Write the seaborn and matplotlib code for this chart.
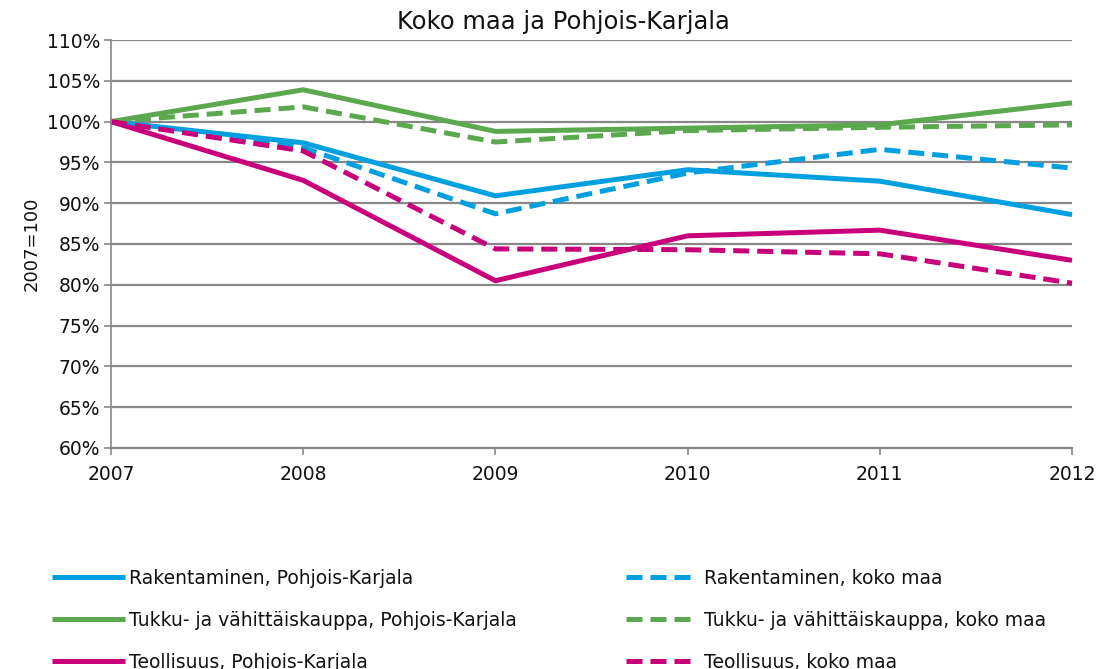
import matplotlib
matplotlib.use("Agg")
import matplotlib.pyplot as plt
import seaborn as sns
import pandas as pd
from matplotlib.ticker import FuncFormatter

years = [2007, 2008, 2009, 2010, 2011, 2012]
rak_pk = [100.0, 97.4, 90.9, 94.1, 92.7, 88.6]
rak_km = [100.0, 96.8, 88.7, 93.7, 96.6, 94.3]
tuk_pk = [100.0, 103.9, 98.8, 99.2, 99.6, 102.3]
tuk_km = [100.0, 101.8, 97.5, 98.9, 99.3, 99.6]
teo_pk = [100.0, 92.8, 80.5, 86.0, 86.7, 83.0]
teo_km = [100.0, 96.4, 84.4, 84.3, 83.8, 80.2]

labels = [
    "Rakentaminen, Pohjois-Karjala",
    "Tukku- ja vähittäiskauppa, Pohjois-Karjala",
    "Teollisuus, Pohjois-Karjala",
    "Rakentaminen, koko maa",
    "Tukku- ja vähittäiskauppa, koko maa",
    "Teollisuus, koko maa",
]
series = [rak_pk, tuk_pk, teo_pk, rak_km, tuk_km, teo_km]
colors = ["#00A0E0", "#5BA84F", "#C8007A", "#00A0E0", "#5BA84F", "#C8007A"]
dashed = [False, False, False, True, True, True]

title = "Koko maa ja Pohjois-Karjala"
ylabel = "2007=100"

sns.set_theme(style="white")
plt.rcParams["font.family"] = ["DejaVu Sans"]
plt.rcParams["text.color"] = "#111111"

fig = plt.figure(figsize=(10.98, 6.69), dpi=100)
ax = fig.add_axes([111/1098, 1-448/669, (1072-111)/1098, (448-40)/669])

for lab, vals, col, d in zip(labels, series, colors, dashed):
    df = pd.DataFrame({"year": years, "value": vals})
    sns.lineplot(data=df, x="year", y="value", ax=ax, color=col, lw=3.6,
                 label=lab, legend=False)
    line = ax.lines[-1]
    if d:
        line.set_dashes((3.2, 1.6))
        line.set_dash_capstyle("butt")
    line.set_clip_on(False)
    line.set_solid_capstyle("butt")

ax.set_xlim(2007, 2012)
ax.set_ylim(60, 110)
ax.set_yticks(range(60, 111, 5))
ax.set_xticks(years)
ax.yaxis.set_major_formatter(FuncFormatter(lambda v, p: f"{int(v)}%"))
ax.grid(axis="y", color="#888888", lw=1.6)
ax.set_axisbelow(True)
for s in ["top", "right"]:
    ax.spines[s].set_visible(False)
for s in ["left", "bottom"]:
    ax.spines[s].set_color("#888888")
    ax.spines[s].set_linewidth(1.2)
ax.spines["bottom"].set_linewidth(1.6)
ax.tick_params(axis="both", colors="#888888", labelcolor="#111111", labelsize=13.5,
               direction="out", length=5, width=1.2, bottom=True, left=True)
ax.tick_params(axis="x", pad=7)
ax.tick_params(axis="y", pad=3)
ax.set_xlabel("")
ax.set_ylabel(ylabel, fontsize=13, labelpad=4, color="#111111")

fig.text(563/1098, 1-22/669, title, ha="center", va="center", fontsize=17.5,
         color="#111111")

handles = ax.lines[:6]
leg1 = fig.legend(handles=handles[:3], labels=labels[:3], loc="upper left",
                  bbox_to_anchor=(52/1098, 1-569/669), frameon=False, fontsize=13.5,
                  handlelength=3.9, handletextpad=0.2, labelspacing=1.22,
                  borderaxespad=0, borderpad=0, labelcolor="#111111")
leg2 = fig.legend(handles=handles[3:], labels=labels[3:], loc="upper left",
                  bbox_to_anchor=(626/1098, 1-569/669), frameon=False, fontsize=13.5,
                  handlelength=3.4, handletextpad=0.75, labelspacing=1.22,
                  borderaxespad=0, borderpad=0, labelcolor="#111111")

fig.savefig("out.png", dpi=100)
